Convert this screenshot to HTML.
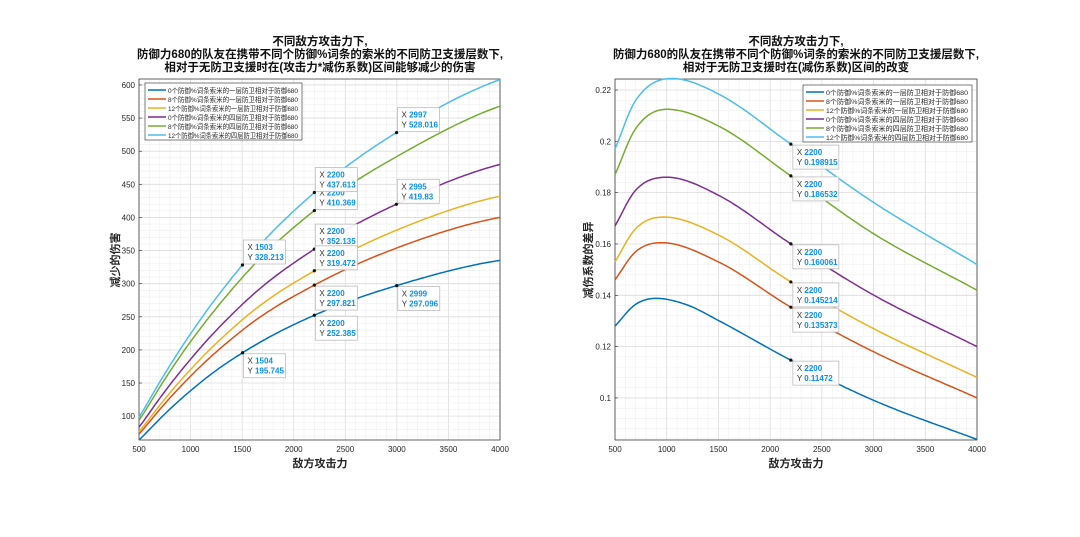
<!DOCTYPE html>
<html><head><meta charset="utf-8">
<style>
html,body{margin:0;padding:0;background:#fff;}
svg{display:block;font-family:"Liberation Sans","Noto Sans CJK SC",sans-serif;}
</style></head>
<body>
<svg id="s" width="1080" height="537" xmlns="http://www.w3.org/2000/svg"></svg>
<script>
const S=document.getElementById('s');
let h='';
const cols=['#0072BD','#D95319','#EDB120','#7E2F8E','#77AC30','#4DBEEE'];
const pts=[
[[500,.128],[700,.1365],[900,.1388],[1200,.1362],[1504,.1301],[2200,.11472],[3000,.09907],[4000,.0838]],
[[500,.146],[700,.157],[950,.1605],[1500,.153],[2200,.13537],[3000,.118],[4000,.100]],
[[500,.153],[700,.166],[970,.1705],[1500,.1635],[2200,.14521],[3000,.127],[4000,.108]],
[[500,.167],[700,.181],[1000,.186],[1500,.179],[2200,.16006],[3000,.1401],[4000,.120]],
[[500,.187],[700,.205],[1000,.2125],[1500,.206],[2200,.18653],[3000,.164],[4000,.142]],
[[500,.197],[700,.216],[1050,.2245],[1503,.2184],[2200,.19892],[3000,.1762],[4000,.152]]];
function spline(p){const n=p.length,xs=p.map(a=>a[0]),ys=p.map(a=>a[1]);const d=[],m=[];
for(let i=0;i<n-1;i++)d.push((ys[i+1]-ys[i])/(xs[i+1]-xs[i]));
m[0]=d[0];m[n-1]=d[n-2];for(let i=1;i<n-1;i++){m[i]=(d[i-1]*d[i]<=0)?0:(d[i-1]+d[i])/2;}
return x=>{let i=0;while(i<n-2&&x>xs[i+1])i++;const hh=xs[i+1]-xs[i],t=(x-xs[i])/hh;
const t2=t*t,t3=t2*t;return (2*t3-3*t2+1)*ys[i]+(t3-2*t2+t)*hh*m[i]+(-2*t3+3*t2)*ys[i+1]+(t3-t2)*hh*m[i+1];};}
const fns=pts.map(spline);
function axes(x0,x1,y0,y1,vmin,vmax,major,minor,fmt){
 const X=v=>x0+(v-500)/3500*(x1-x0), Y=v=>y1-(v-vmin)/(vmax-vmin)*(y1-y0);
 for(let v=500;v<=4000;v+=100){const x=X(v);h+=`<line x1="${x}" y1="${y0}" x2="${x}" y2="${y1}" stroke="${v%500==0?'#dcdcdc':'#efefef'}" stroke-width="${v%500==0?0.8:0.6}"/>`;}
 for(let v=Math.ceil(vmin/minor)*minor;v<=vmax+1e-9;v+=minor){const y=Y(v);const isM=Math.abs(v/major-Math.round(v/major))<1e-6;
  h+=`<line x1="${x0}" y1="${y}" x2="${x1}" y2="${y}" stroke="${isM?'#dcdcdc':'#efefef'}" stroke-width="${isM?0.8:0.6}"/>`;
  if(isM){h+=`<text x="${x0-4}" y="${y+3}" font-size="8" text-anchor="end" fill="#262626">${fmt(v)}</text>`;h+=`<line x1="${x0}" y1="${y}" x2="${x0+3}" y2="${y}" stroke="#262626" stroke-width=".6"/>`;}}
 for(let v=500;v<=4000;v+=500){const x=X(v);h+=`<text x="${x}" y="${y1+12}" font-size="8" text-anchor="middle" fill="#262626">${v}</text>`;}
 h+=`<rect x="${x0}" y="${y0}" width="${x1-x0}" height="${y1-y0}" fill="none" stroke="#262626" stroke-width=".7"/>`;
 return [X,Y];}
let [X,Y]=axes(139,500,79,440,64,609,50,10,v=>v);
fns.forEach((f,i)=>{let d='';for(let v=500;v<=4000;v+=25){let yy=Y(f(v)*v);d+=(v==500?'M':'L')+X(v).toFixed(1)+','+yy.toFixed(1);}
h+=`<path d="${d}" fill="none" stroke="${cols[i]}" stroke-width="1.5"/>`;});
function tip(px,py,bx,by,w,xs,ys){h+=`<rect x="${bx}" y="${by}" width="${w}" height="24" fill="#fff" fill-opacity=".92" stroke="#bdbdbd" stroke-width=".8"/>`;
h+=`<text x="${bx+4}" y="${by+10}" font-size="8" fill="#333">X <tspan fill="#0a8ff0" font-weight="bold">${xs}</tspan></text>`;
h+=`<text x="${bx+4}" y="${by+20}" font-size="8" fill="#333">Y <tspan fill="#0a8ff0" font-weight="bold">${ys}</tspan></text>`;
h+=`<circle cx="${px}" cy="${py}" r="1.6" fill="#111"/>`;}
function L(x,v,xs,ys,below){const px=X(x),py=Y(v);tip(px,py,px+1,below?py+1:py-25,42,xs,ys);}
L(1504,195.745,'1504','195.745',1);
L(2200,252.385,'2200','252.385',1);
L(2200,297.821,'2200','297.821',1);
L(2999,297.096,'2999','297.096',1);
L(2200,352.135,'2200','352.135',0);
L(2200,319.472,'2200','319.472',0);
L(1503,328.213,'1503','328.213',0);
L(2200,410.369,'2200','410.369',0);
L(2995,419.83,'2995','419.83',0);
L(2200,437.613,'2200','437.613',0);
L(2997,528.016,'2997','528.016',0);
function legend(x,y,w){h+=`<rect x="${x}" y="${y}" width="${w}" height="57" fill="#fff" stroke="#262626" stroke-width=".6"/>`;
const lab=['0个防御%词条索米的一层防卫相对于防御680','8个防御%词条索米的一层防卫相对于防御680','12个防御%词条索米的一层防卫相对于防御680','0个防御%词条索米的四层防卫相对于防御680','8个防御%词条索米的四层防卫相对于防御680','12个防御%词条索米的四层防卫相对于防御680'];
lab.forEach((t,i)=>{const yy=y+7+i*9;h+=`<line x1="${x+3}" y1="${yy}" x2="${x+21}" y2="${yy}" stroke="${cols[i]}" stroke-width="1.5"/><text x="${x+23}" y="${yy+3}" font-size="6.6" fill="#262626" textLength="${w-27}" lengthAdjust="spacingAndGlyphs">${t}</text>`;});}
legend(145,83,157);
h+=`<text x="320" y="467" font-size="11" font-weight="bold" text-anchor="middle" fill="#262626">敌方攻击力</text>`;
h+=`<text transform="translate(119,260) rotate(-90)" font-size="11" font-weight="bold" text-anchor="middle" fill="#262626">减少的伤害</text>`;
const t1=['不同敌方攻击力下,','防御力680的队友在携带不同个防御%词条的索米的不同防卫支援层数下,','相对于无防卫支援时在(攻击力*减伤系数)区间能够减少的伤害'];
t1.forEach((t,i)=>h+=`<text x="320" y="${45+i*13}" font-size="11.5" font-weight="bold" text-anchor="middle" fill="#111">${t}</text>`);
[X,Y]=axes(615,977,79,440,0.0836,0.2243,0.02,0.004,v=>{let s=+v.toFixed(2);return s.toString();});
fns.forEach((f,i)=>{let d='';for(let v=500;v<=4000;v+=25){d+=(v==500?'M':'L')+X(v).toFixed(1)+','+Y(f(v)).toFixed(1);}
h+=`<path d="${d}" fill="none" stroke="${cols[i]}" stroke-width="1.5"/>`;});
[[.11472,'0.11472'],[.135373,'0.135373'],[.145214,'0.145214'],[.160061,'0.160061'],[.186532,'0.186532'],[.198915,'0.198915']].forEach(a=>{const px=X(2200),py=Y(a[0]);tip(px,py,px+2,py+1,46,'2200',a[1]);});
legend(803,85,169);
h+=`<text x="796" y="467" font-size="11" font-weight="bold" text-anchor="middle" fill="#262626">敌方攻击力</text>`;
h+=`<text transform="translate(592,260) rotate(-90)" font-size="11" font-weight="bold" text-anchor="middle" fill="#262626">减伤系数的差异</text>`;
const t2=['不同敌方攻击力下,','防御力680的队友在携带不同个防御%词条的索米的不同防卫支援层数下,','相对于无防卫支援时在(减伤系数)区间的改变'];
t2.forEach((t,i)=>h+=`<text x="796" y="${45+i*13}" font-size="11.5" font-weight="bold" text-anchor="middle" fill="#111">${t}</text>`);
S.innerHTML=h;
</script>
</body></html>
